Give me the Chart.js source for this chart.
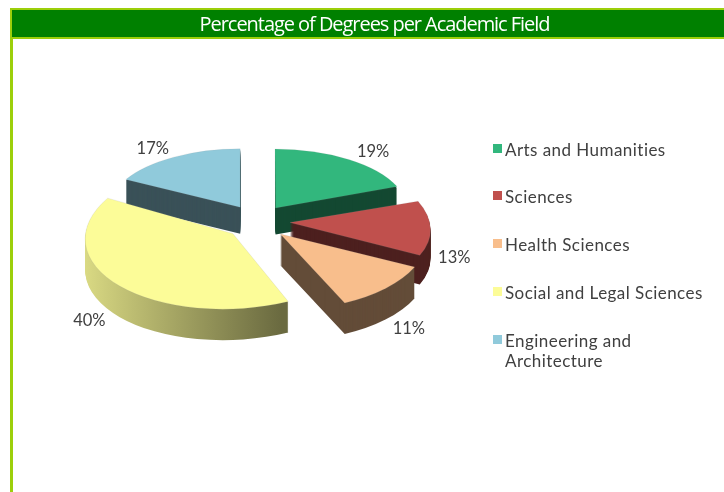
<!DOCTYPE html>
<html><head><meta charset="utf-8">
<style>
html,body{margin:0;padding:0;background:#fff;overflow:hidden;width:724px;height:492px}
#wrap{position:relative;width:724px;height:492px;overflow:hidden}
.f{position:absolute;background:#9ccf0a}
#bar{position:absolute;left:12px;top:10px;width:712px;height:27px;background:#008000}
canvas{position:absolute;left:0;top:0}
#legend{position:absolute;left:493px;top:0;font-family:Lato,sans-serif;font-size:17px;color:#404040;line-height:20px;letter-spacing:.45px}
.it{position:absolute;left:0;white-space:nowrap}
.sw{position:absolute;left:0;top:4px;width:9px;height:9px}
.tx{position:absolute;left:12px;top:0}
</style></head><body>
<div id="wrap">
<div class="f" style="left:10px;top:8px;width:714px;height:2px"></div>
<div class="f" style="left:10px;top:37px;width:714px;height:2px"></div>
<div class="f" style="left:10px;top:8px;width:2.5px;height:484px"></div>
<div id="bar"></div>
<canvas id="c" width="724" height="492"></canvas>
<div id="legend"></div>
</div>
<script src="https://cdn.jsdelivr.net/npm/chart.js@4"></script>
<script>
const TITLE = 'Percentage of Degrees per Academic Field';
const categories = ['Arts and Humanities','Sciences','Health Sciences','Social and Legal Sciences',['Engineering and','Architecture']];
const percentages = [19,13,11,40,17];
const colors = ['#32B77D','#C0504D','#F8BE8C','#FCFC98','#90CADB'];

const VIEW = {cx:257, cy:222, explodeX:33, explodeY:17, rx:140, rxP:11, ry:68, ryP:11, depth:29, depthP:3, wallDark:.4, skewY:.03, skewX:-.22, skewXR:.1};
function shade(hex,f){const n=parseInt(hex.slice(1),16);return `rgb(${Math.round((n>>16&255)*f)},${Math.round((n>>8&255)*f)},${Math.round((n&255)*f)})`;}

const pie3d = {
  id:'pie3d',
  beforeDraw(chart){ chart.ctx.letterSpacing = '-1.05px'; },
  beforeDatasetDraw(chart,args){
    const ctx = chart.ctx, meta = args.meta, ds = chart.data.datasets[0];
    const order = meta.data.map((el,i)=>{
      const mid = (el.startAngle+el.endAngle)/2;
      return {el,i,dx:Math.cos(mid),dy:Math.sin(mid)};
    }).sort((a,b)=>a.dy-b.dy);
    for(const s of order){
      const {el,i,dx,dy} = s, R = el.outerRadius;
      const side = 1-Math.abs(dy);
      const sx = (VIEW.rx+VIEW.rxP*dy)/R, sy = (VIEW.ry+VIEW.ryP*dy)/R;
      const ax = VIEW.cx+VIEW.explodeX*dx, ay = VIEW.cy+VIEW.explodeY*dy;
      const depth = VIEW.depth+VIEW.depthP*dy;
      const shY = VIEW.skewY*dx*side;
      const shX = VIEW.skewX*Math.max(0,-dx)*Math.max(0,dy)+VIEW.skewXR*Math.max(0,dx)*side;
      const place = (off)=>{
        ctx.translate(ax,ay+off); ctx.transform(1,shY,shX,1,0,0);
        ctx.scale(sx,sy); ctx.translate(-el.x,-el.y);
      };
      const base = ds.backgroundColor[i];
      let wall = shade(base,VIEW.wallDark);
      if(dy>0 && dx<0){
        const g = ctx.createLinearGradient(el.x-(ax-84)/sx,0,el.x+(289-ax)/sx,0);
        g.addColorStop(0,shade(base,.87)); g.addColorStop(1,shade(base,.42));
        wall = g;
      }
      const saved = el.options;
      el.options = Object.create(saved,{backgroundColor:{value:wall},borderWidth:{value:0}});
      for(let d=depth;d>=1;d-=1){
        ctx.save(); place(d); el.draw(ctx); ctx.restore();
      }
      el.options = saved;
      ctx.save(); place(0); el.draw(ctx); ctx.restore();
    }
    ctx.save();
    ctx.letterSpacing = '0px';
    ctx.font = '16.5px Lato, sans-serif'; ctx.fillStyle='#404040';
    ctx.textAlign='center'; ctx.textBaseline='middle';
    for(const s of order){
      const {i,dx,dy} = s;
      const rx=VIEW.rx+VIEW.rxP*dy, ry=VIEW.ry+VIEW.ryP*dy;
      const ox = (dx<0&&dy>0)?-36:(dx<0?-21:24);
      const oy = dy<-.2?-8:(dx>0&&dy<.3?33:(dx>0?41:35));
      ctx.fillText(percentages[i]+'%', VIEW.cx+VIEW.explodeX*dx+rx*dx+ox, VIEW.cy+VIEW.explodeY*dy+ry*dy+oy);
    }
    ctx.restore();
    return false;
  }
};

new Chart(document.getElementById('c'),{
  type:'pie',
  data:{labels:categories,datasets:[{data:percentages,backgroundColor:colors,borderColor:'rgba(150,150,150,.45)',borderWidth:.7}]},
  options:{
    responsive:false,animation:false,
    layout:{padding:{left:25}},
    plugins:{
      legend:{display:false},tooltip:{enabled:false},
      title:{display:true,text:TITLE,color:'#fff',font:{family:'"Open Sans"',size:20,weight:'normal'},padding:{top:13,bottom:4}}
    }
  },
  plugins:[pie3d]
});

const legendTops = [140,187,235,283,331];
const lg = document.getElementById('legend');
categories.forEach((c,i)=>{
  const it = document.createElement('div'); it.className='it'; it.style.top=legendTops[i]+'px';
  const sw = document.createElement('div'); sw.className='sw'; sw.style.background=colors[i];
  const tx = document.createElement('div'); tx.className='tx';
  tx.innerHTML = [].concat(c).join('<br>');
  it.append(sw,tx); lg.append(it);
});
</script>
</body></html>
